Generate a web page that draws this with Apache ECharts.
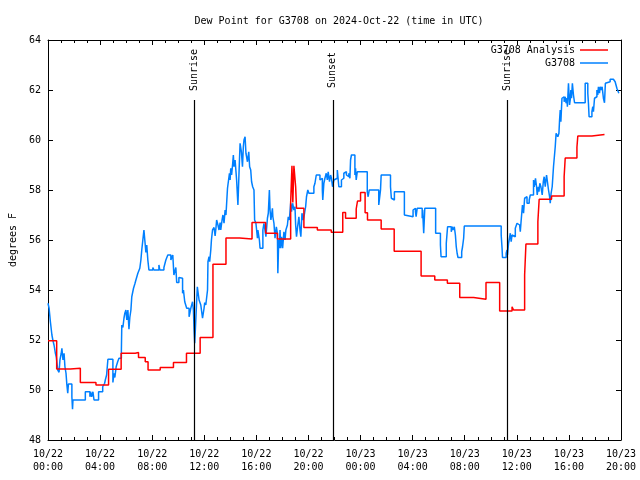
<!DOCTYPE html>
<html><head><meta charset="utf-8">
<script src="https://cdn.jsdelivr.net/npm/echarts/dist/echarts.min.js"></script>
<style>html,body{margin:0;padding:0;background:#fff}#c{width:640px;height:480px}</style>
</head><body><div id="c"></div>
<script>
// time in minutes since 2024-10-22 00:00 UTC
var xTickLabels = ['10/22\n00:00','10/22\n04:00','10/22\n08:00','10/22\n12:00','10/22\n16:00','10/22\n20:00',
                   '10/23\n00:00','10/23\n04:00','10/23\n08:00','10/23\n12:00','10/23\n16:00','10/23\n20:00'];
var sunTimes = [673, 1312, 2117];
var sunLabels = ['Sunrise', 'Sunset', 'Sunrise'];

var analysisTimes = [0,40,103,149,221,279,337,402,417,448,461,517,578,638,701,760,820,883,940,1003,
  1057,1118,1124,1128,1133,1141,1145,1179,1241,1305,1358,1371,1420,1426,1440,1461,1472,1535,1595,1719,
  1782,1840,1897,1961,2018,2081,2138,2145,2196,2202,2257,2263,2320,2378,2383,2437,2441,2506,2564];
var analysisValues = [51.97,50.84,50.87,50.3,50.2,50.83,51.47,51.5,51.3,51.13,50.8,50.9,51.1,51.47,52.1,55.03,56.08,56.04,56.7,56.27,
  56.04,57.49,58.97,57.5,58.97,58.13,57.27,56.5,56.4,56.31,57.1,56.87,57.24,57.56,57.9,57.09,56.8,56.44,55.55,54.56,
  54.4,54.27,53.7,53.63,54.3,53.16,53.33,53.2,54.6,55.84,56.73,57.63,57.76,58.53,59.28,59.71,60.16,60.22,60.22];

// station observations: [minute, dew point F]
var stationObs = [
[0,53.47],[5,53.27],[11,52.73],[18,52.2],[23,51.97],[28,51.79],[34,51.47],[38,51.33],[45,50.8],[51,50.71],
[55,51.2],[61,51.47],[64,51.67],[69,51.2],[74,51.47],[78,50.93],[83,50.67],[87,50.2],[91,49.87],[94,50.24],
[110,49.73],[113,49.23],[115,49.6],[172,49.93],[193,49.73],[196,49.93],[201,49.73],[207,49.93],[212,49.6],[233,49.93],
[252,50.13],[261,50.27],[264,50.4],[270,50.6],[276,51.23],[299,50.3],[304,50.67],[308,50.5],[314,50.93],[321,51.13],
[327,51.27],[338,51.53],[340,52.6],[345,52.5],[350,52.87],[354,53.07],[359,53.2],[363,52.8],[368,53.2],[373,52.43],
[377,52.9],[382,53.2],[386,53.73],[394,54.07],[400,54.24],[405,54.4],[414,54.67],[423,54.87],[428,55.2],[432,55.6],
[437,56.0],[442,56.4],[446,56.0],[451,55.5],[455,55.8],[460,55.2],[465,54.8],[483,54.9],[488,54.8],[511,55.0],
[515,54.8],[534,54.9],[543,55.2],[552,55.4],[566,55.2],[575,55.4],[580,54.6],[589,54.9],[593,54.3],[603,54.5],
[612,54.47],[620,53.87],[624,54.0],[630,53.53],[639,53.27],[650,52.93],[658,53.27],[666,53.53],[670,53.2],[673,52.43],
[676,51.87],[681,52.8],[688,54.13],[692,54.2],[696,53.6],[704,53.4],[712,52.87],[719,53.27],[722,53.5],[727,53.4],
[735,54.0],[737,55.13],[742,55.33],[745,55.13],[750,55.6],[753,56.0],[758,56.4],[765,56.5],[770,56.16],[774,56.5],
[777,56.8],[783,56.6],[788,56.4],[793,56.7],[796,56.4],[802,56.8],[806,57.0],[811,56.67],[816,57.2],[820,57.0],
[827,58.07],[831,58.0],[836,58.67],[839,58.4],[842,58.87],[846,58.6],[851,59.07],[854,59.4],[857,58.93],[862,59.2],
[869,58.4],[875,57.4],[880,58.67],[885,59.87],[891,59.53],[896,58.93],[900,59.73],[903,60.0],[908,60.13],[912,59.47],
[919,59.13],[925,59.53],[929,58.93],[934,58.8],[938,58.33],[943,58.13],[949,58.0],[952,56.8],[958,56.67],[965,56.07],
[967,56.4],[974,56.0],[977,55.67],[990,56.4],[995,56.67],[1004,56.13],[1011,56.87],[1015,57.07],[1020,58.0],[1023,57.2],
[1027,56.8],[1034,57.27],[1036,56.93],[1041,56.67],[1046,56.07],[1052,56.53],[1057,56.27],[1059,54.67],[1063,56.0],[1066,55.67],
[1069,56.4],[1072,55.67],[1076,56.13],[1081,55.67],[1087,56.33],[1092,56.0],[1096,56.4],[1103,56.6],[1107,56.93],[1112,56.8],
[1118,57.47],[1122,57.13],[1127,57.47],[1133,57.2],[1138,57.33],[1141,56.6],[1145,56.13],[1150,56.53],[1156,56.93],[1161,56.4],
[1165,56.13],[1170,57.07],[1176,56.8],[1182,57.07],[1187,57.33],[1191,57.73],[1197,58.0],[1202,57.87],[1225,58.13],[1230,58.27],
[1236,58.6],[1253,58.4],[1259,58.47],[1264,58.0],[1266,57.6],[1271,58.27],[1276,58.47],[1282,58.67],[1287,58.4],[1291,58.73],
[1297,58.33],[1302,58.6],[1306,58.47],[1311,58.13],[1317,58.4],[1325,58.47],[1333,58.8],[1340,58.13],[1352,58.4],[1357,58.47],
[1363,58.67],[1371,58.73],[1375,58.6],[1381,58.53],[1386,58.67],[1391,58.47],[1394,59.2],[1398,59.4],[1414,58.6],[1417,58.87],
[1420,58.4],[1425,58.73],[1471,57.93],[1475,57.73],[1480,58.0],[1524,57.4],[1532,58.0],[1535,58.6],[1578,58.13],[1582,57.67],
[1590,57.6],[1596,57.93],[1642,57.0],[1647,56.93],[1682,57.2],[1688,57.27],[1693,57.13],[1696,56.93],[1701,57.27],[1724,56.87],
[1726,57.2],[1731,56.27],[1736,57.27],[1786,56.27],[1808,55.8],[1811,55.33],[1835,55.87],[1841,56.53],[1858,56.33],[1862,56.53],
[1866,56.4],[1872,56.53],[1877,56.2],[1881,55.73],[1885,55.47],[1889,55.3],[1906,55.53],[1910,55.73],[1915,56.07],[1918,56.56],
[2088,56.2],[2092,55.67],[2094,55.3],[2111,55.47],[2115,55.6],[2117,55.4],[2122,55.87],[2130,56.27],[2134,55.93],[2138,56.2],
[2142,56.13],[2153,56.47],[2161,56.67],[2167,56.6],[2173,56.53],[2176,56.33],[2179,56.67],[2184,57.2],[2186,57.4],[2191,57.07],
[2196,57.67],[2202,57.73],[2207,57.47],[2217,57.6],[2222,57.8],[2237,58.4],[2240,58.13],[2243,58.27],[2246,58.47],[2251,58.13],
[2254,57.8],[2259,58.13],[2262,57.93],[2266,58.27],[2271,58.13],[2277,57.8],[2282,58.33],[2286,58.53],[2291,58.13],[2294,58.4],
[2297,58.6],[2301,58.33],[2306,58.0],[2311,57.73],[2314,57.47],[2318,57.87],[2323,58.13],[2326,58.53],[2329,58.93],[2332,59.0],
[2337,59.73],[2341,60.27],[2345,60.33],[2349,60.13],[2354,60.27],[2357,60.8],[2360,61.2],[2363,60.73],[2368,61.67],[2372,61.73],
[2378,61.53],[2383,61.73],[2387,61.47],[2391,61.67],[2393,61.33],[2398,62.27],[2403,61.4],[2406,61.6],[2409,62.0],[2412,61.67],
[2416,62.27],[2421,61.8],[2426,61.49],[2475,62.27],[2487,61.87],[2490,61.47],[2493,60.93],[2506,61.13],[2510,61.33],[2513,61.13],
[2518,61.67],[2522,61.73],[2529,62.0],[2533,61.8],[2536,62.13],[2541,61.87],[2544,62.13],[2548,62.0],[2553,62.13],[2559,61.67],
[2564,61.49],[2568,62.27],[2575,62.33],[2590,62.43],[2605,62.47],[2613,62.33],[2621,62.07],[2625,62.0],[2630,61.87]
];

var FONT = 'DejaVu Sans Mono';
var chart = echarts.init(document.getElementById('c'), null, {renderer: 'canvas'});

var analysisData = analysisTimes.map(function (t, i) { return [t, analysisValues[i]]; });

var sunLines = sunTimes.map(function (t) { return [{coord: [t, 61.6]}, {coord: [t, 48]}]; });
var sunMarks = sunTimes.map(function (t, i) {
  return {coord: [t, 62.8], value: sunLabels[i]};
});

function xAxisCfg(pos, showLabels) {
  return {
    type: 'value', position: pos, min: 0, max: 2640, interval: 240,
    axisLine: {show: true, onZero: false, lineStyle: {color: '#000', width: 1}},
    axisTick: {show: true, inside: true, length: 5, lineStyle: {color: '#000'}},
    minorTick: {show: true, splitNumber: 4, length: 3, lineStyle: {color: '#000'}},
    splitLine: {show: false}, minorSplitLine: {show: false},
    axisLabel: {show: showLabels, fontFamily: FONT, fontSize: 10, color: '#000', margin: 8, lineHeight: 13,
      formatter: function (v) { return xTickLabels[Math.round(v / 240)]; }}
  };
}
function yAxisCfg(pos, showLabels) {
  return {
    type: 'value', position: pos, min: 48, max: 64, interval: 2,
    name: showLabels ? 'degrees F' : '', nameLocation: 'middle', nameGap: 30,
    nameTextStyle: {fontFamily: FONT, fontSize: 10, color: '#000'},
    axisLine: {show: true, onZero: false, lineStyle: {color: '#000', width: 1}},
    axisTick: {show: true, inside: true, length: 5, lineStyle: {color: '#000'}},
    splitLine: {show: false},
    axisLabel: {show: showLabels, fontFamily: FONT, fontSize: 10, color: '#000', margin: 7}
  };
}

chart.setOption({
  animation: false,
  backgroundColor: '#fff',
  title: {text: 'Dew Point for G3708 on 2024-Oct-22 (time in UTC)', left: 334, top: 11, textAlign: 'center',
    textStyle: {fontFamily: FONT, fontSize: 10, fontWeight: 'normal', color: '#000'}},
  grid: {left: 47, right: 19, top: 40, bottom: 40, containLabel: false},
  legend: [
    {data: ['G3708 Analysis'], right: 27, top: 40, orient: 'vertical', align: 'right', icon: 'rect',
     itemWidth: 28, itemHeight: 1.5, textStyle: {fontFamily: FONT, fontSize: 10, color: '#000'}},
    {data: ['G3708'], right: 27, top: 53, orient: 'vertical', align: 'right', icon: 'rect',
     itemWidth: 28, itemHeight: 1.5, textStyle: {fontFamily: FONT, fontSize: 10, color: '#000'}}
  ],
  xAxis: [xAxisCfg('bottom', true), xAxisCfg('top', false)],
  yAxis: [yAxisCfg('left', true), yAxisCfg('right', false)],
  series: [
    {name: 'G3708 Analysis', type: 'line', step: 'end', symbol: 'none', data: analysisData,
     lineStyle: {color: '#ff0000', width: 1.5}, itemStyle: {color: '#ff0000'}, z: 3,
     markLine: {silent: true, symbol: ['none', 'none'], label: {show: false},
       lineStyle: {color: '#000', type: 'solid', width: 1.2}, data: sunLines},
     markPoint: {silent: true, symbolSize: 0, data: sunMarks,
       label: {show: true, position: 'inside', rotate: 90, formatter: function (p) { return p.value; },
         fontFamily: FONT, fontSize: 10, color: '#000'}}},
    {name: 'G3708', type: 'line', step: 'end', symbol: 'none', data: stationObs,
     lineStyle: {color: '#0080ff', width: 1.5}, itemStyle: {color: '#0080ff'}, z: 2}
  ]
});
</script></body></html>
